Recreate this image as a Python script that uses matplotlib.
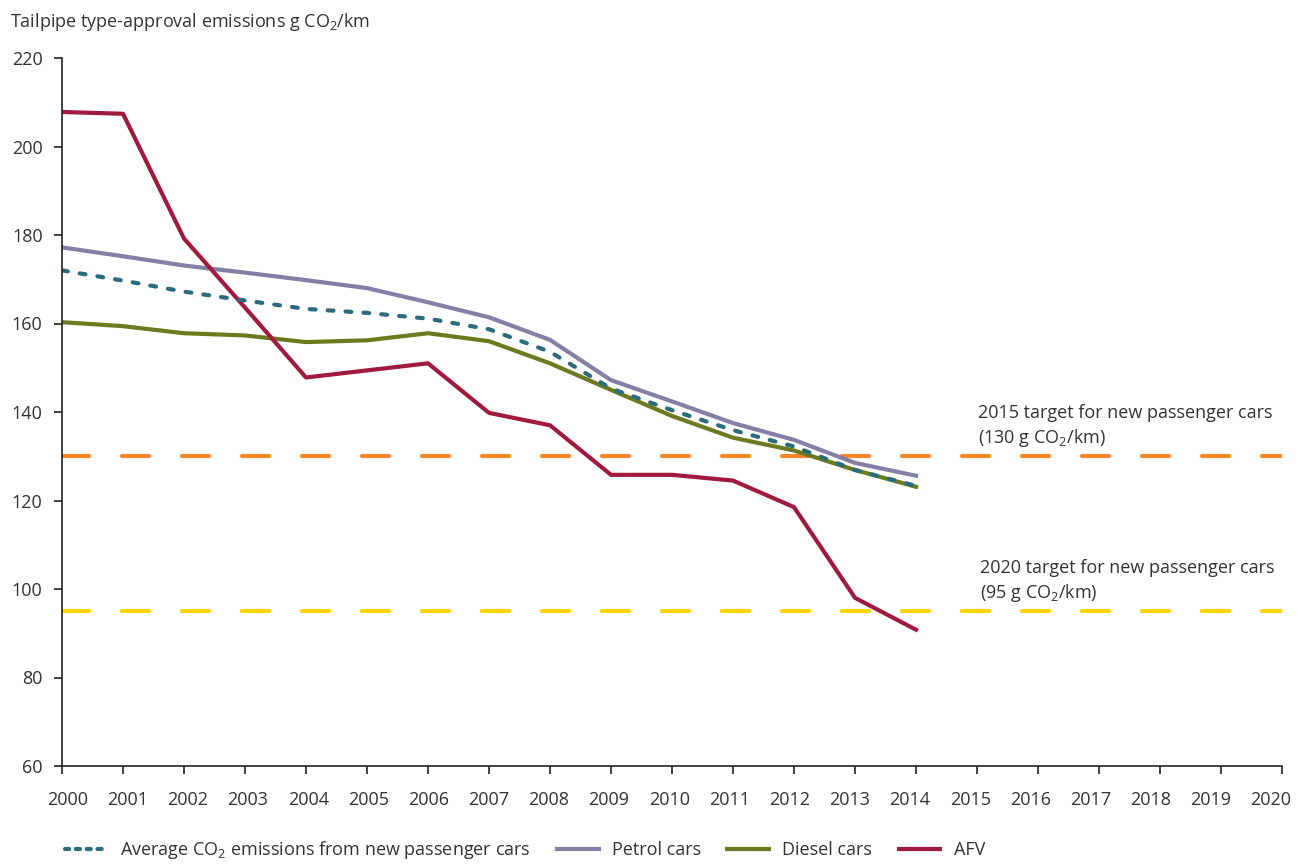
import numpy as np
import matplotlib
matplotlib.use("Agg")
import matplotlib.pyplot as plt
from matplotlib.lines import Line2D

plt.rcParams['font.family'] = ['Open Sans', 'DejaVu Sans']
plt.rcParams['mathtext.fontset'] = 'custom'
plt.rcParams['mathtext.rm'] = 'Open Sans'
plt.rcParams['mathtext.it'] = 'Open Sans'
plt.rcParams['mathtext.bf'] = 'Open Sans'

# data (g CO2/km)
years = np.arange(2000, 2015)
average = [172.0, 169.7, 167.2, 165.2, 163.3, 162.4, 161.1, 158.7, 153.6, 145.3,
           140.4, 135.9, 132.2, 126.9, 123.3]
petrol = [177.2, 175.2, 173.1, 171.5, 169.8, 168.0, 164.8, 161.4, 156.3, 147.2,
          142.4, 137.5, 133.7, 128.5, 125.6]
diesel = [160.3, 159.4, 157.8, 157.3, 155.8, 156.2, 157.8, 156.0, 151.0, 145.0,
          139.1, 134.2, 131.3, 126.9, 123.1]
afv = [207.8, 207.4, 179.2, 163.6, 147.8, 149.4, 151.0, 139.8, 137.0, 125.8,
       125.8, 124.5, 118.5, 98.0, 90.8]

all_years = np.arange(2000, 2021)
target_years = [2000, 2020]
target_2015 = 130
target_2020 = 95

text_col = '#333333'
c_avg = '#2A6B7C'
c_petrol = '#8380A5'
c_diesel = '#6B7A1F'
c_afv = '#A0193F'
c_orange = '#F5862A'
c_yellow = '#FFD400'
fs = 13

fig = plt.figure(figsize=(12.97, 8.64), dpi=100)
ax = fig.add_axes([62 / 1297, 1 - 766 / 864, 1220 / 1297, 708 / 864])

ax.plot(target_years, [target_2015] * 2, color=c_orange, lw=3, dashes=(6.5, 7.9),
        dash_capstyle='round')
ax.plot(target_years, [target_2020] * 2, color=c_yellow, lw=3, dashes=(6.5, 7.9),
        dash_capstyle='round')

ax.plot(years, petrol, color=c_petrol, lw=3)
ax.plot(years, diesel, color=c_diesel, lw=3)
ax.plot(years, afv, color=c_afv, lw=3)
ax.plot(years, average, color=c_avg, lw=3, dashes=(1.4, 2.9), dash_capstyle='round')

ax.set_xlim(2000, 2020)
ax.set_ylim(60, 220)
# tick marks on the years, labels spread a little tighter (as in the original)
ax.set_xticks(all_years)
ax.set_xticklabels([])
ax.set_xticks(np.linspace(2000.09, 2019.82, len(all_years)), minor=True)
ax.set_xticklabels([str(y) for y in all_years], minor=True)
ax.set_yticks(np.arange(60, 221, 20))
for s in ['top', 'right']:
    ax.spines[s].set_visible(False)
for s in ['left', 'bottom']:
    ax.spines[s].set_color('#222222')
    ax.spines[s].set_linewidth(1.2)
ax.tick_params(axis='both', which='major', direction='out', length=6, width=1.2,
               color='#222222', labelsize=fs, labelcolor=text_col)
ax.tick_params(axis='x', which='minor', length=0, pad=18, labelsize=fs,
               labelcolor=text_col)
ax.tick_params(axis='y', pad=8)

fig.text(10 / 1297, 1 - 22 / 864, 'Tailpipe type-approval emissions g CO$_2$/km',
         fontsize=fs, color=text_col, va='center', ha='left')

ax.text(2015.02, 131.6, '2015 target for new passenger cars\n(130 g CO$_2$/km)',
        fontsize=fs, color=text_col, va='bottom', ha='left', linespacing=1.3)
ax.text(2015.05, 96.6, '2020 target for new passenger cars\n(95 g CO$_2$/km)',
        fontsize=fs, color=text_col, va='bottom', ha='left', linespacing=1.3)

handles = [
    Line2D([], [], color=c_avg, lw=3, dashes=(1.0, 1.6), dash_capstyle='round'),
    Line2D([], [], color=c_petrol, lw=3),
    Line2D([], [], color=c_diesel, lw=3),
    Line2D([], [], color=c_afv, lw=3),
]
labels = ['Average CO$_2$ emissions from new passenger cars', 'Petrol cars',
          'Diesel cars', 'AFV']
fig.legend(handles, labels, loc='lower left', bbox_to_anchor=(56 / 1297, -6 / 864),
           ncol=4, frameon=False, fontsize=fs, handlelength=2.3,
           handletextpad=0.75, columnspacing=1.45, borderpad=0, labelcolor=text_col)

fig.savefig('out.png', dpi=100)
